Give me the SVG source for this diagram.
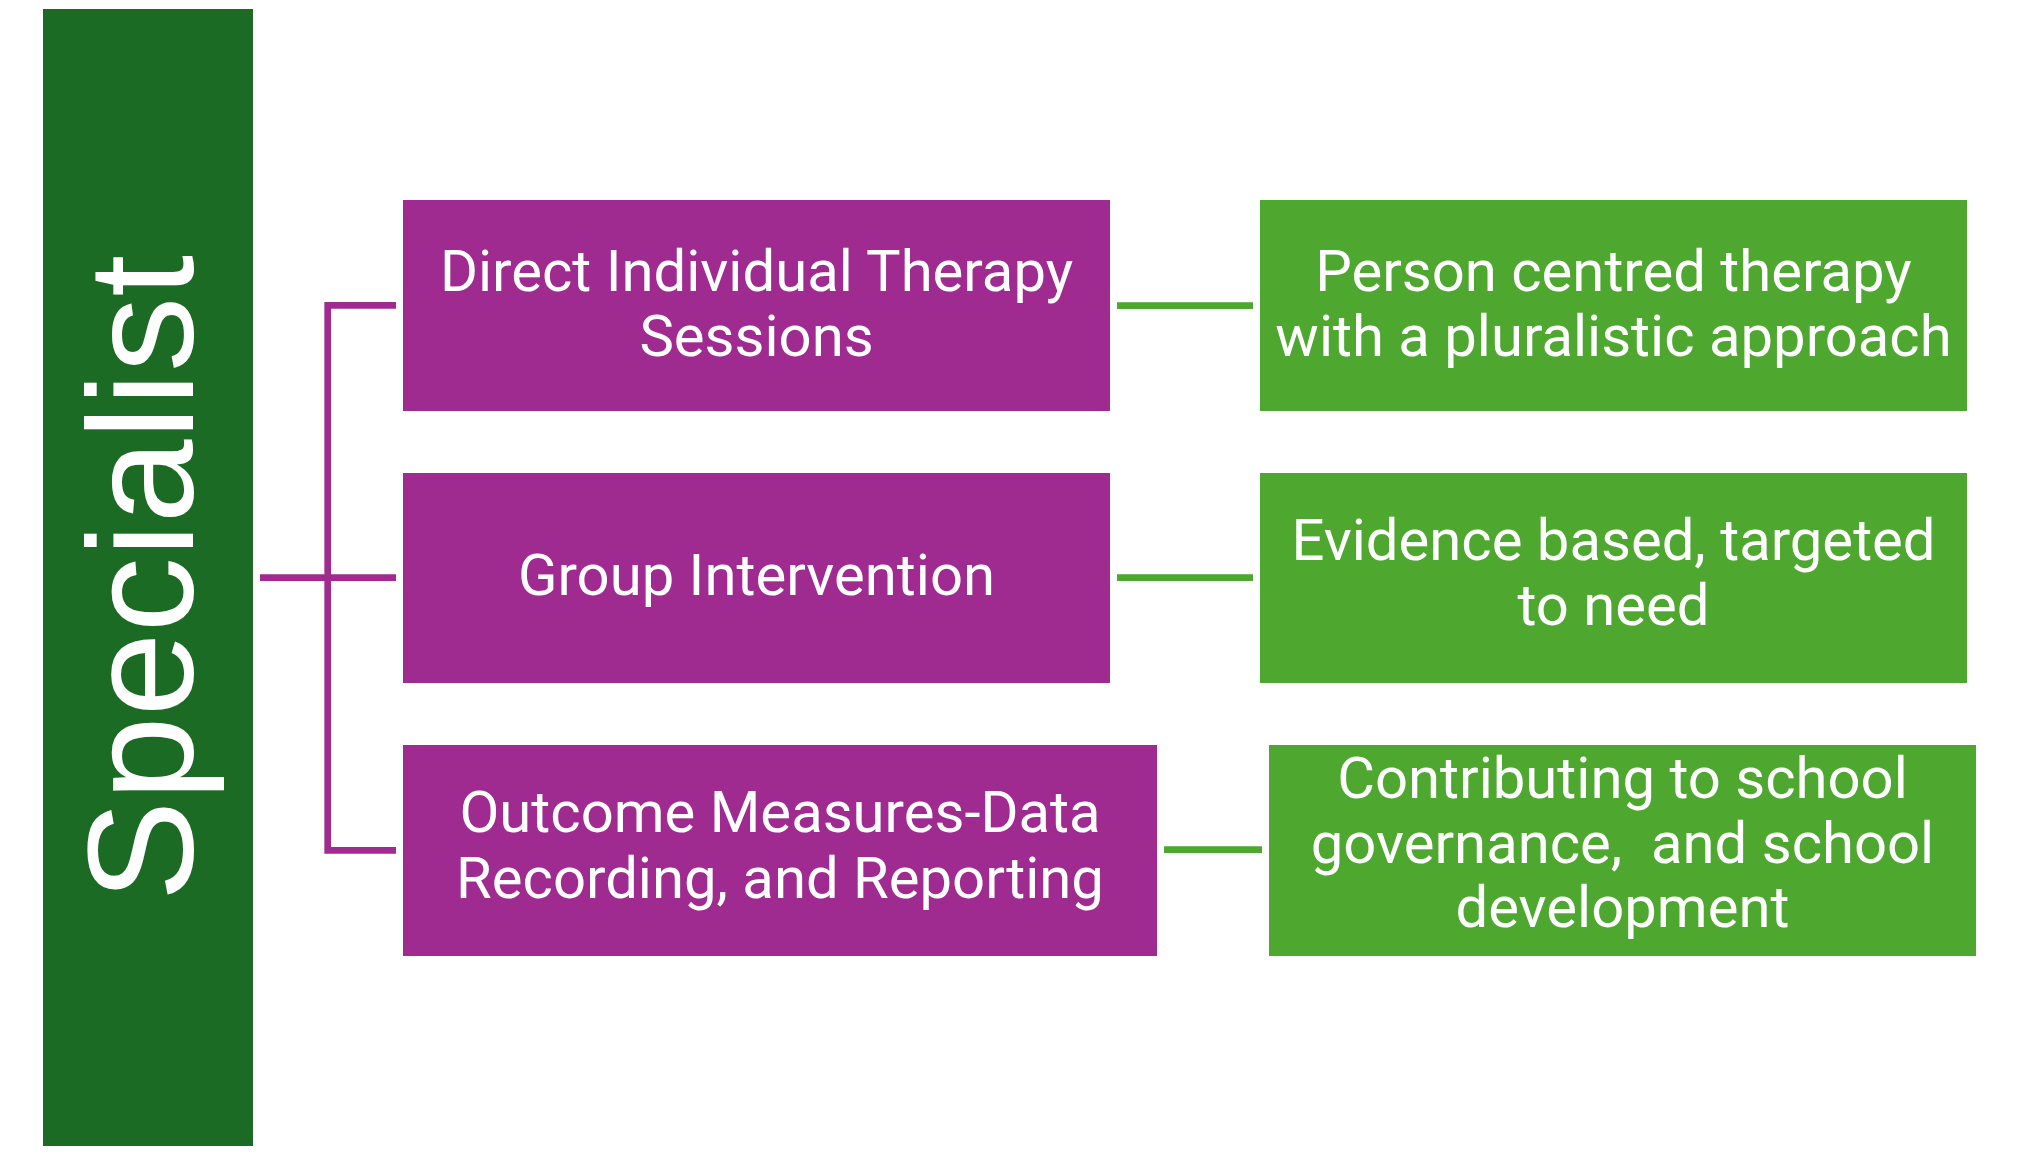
<svg xmlns="http://www.w3.org/2000/svg" width="2018" height="1155" viewBox="0 0 2018 1155">
<style>
.bg{fill:#ffffff}
.main{fill:#1B6B24}
.p{fill:#A02B90}
.g{fill:#4EA72E}
.t{fill:#ffffff;font-family:Roboto,"Liberation Sans",sans-serif;font-size:58px;text-anchor:middle}
.big{fill:#ffffff;font-family:"Liberation Sans",Arial,sans-serif;font-size:151px;text-anchor:middle}
.cp{fill:none;stroke:#A02B90;stroke-width:6.7}
.cg{fill:none;stroke:#4EA72E;stroke-width:6.7}
</style>
<rect class="bg" x="0" y="0" width="2018" height="1155"/>
<g id="connectors">
<path class="cp" d="M396,305.3 H327.7 V850.3 H396"/>
<path class="cp" d="M260,577.7 H396"/>
<path class="cg" d="M1117,305.7 H1253"/>
<path class="cg" d="M1117,577.7 H1253"/>
<path class="cg" d="M1164,849.7 H1262"/>
</g>
<g id="specialist">
<rect class="main" x="43" y="9" width="210" height="1137"/>
<text class="big" transform="translate(193,578) rotate(-90)">Specialist</text>
</g>
<g id="direct-therapy">
<rect class="p" x="403" y="200" width="707" height="211"/>
<text class="t" x="756.5" y="291">Direct Individual Therapy</text>
<text class="t" x="756.5" y="356">Sessions</text>
</g>
<g id="group-intervention">
<rect class="p" x="403" y="473" width="707" height="210"/>
<text class="t" x="756.5" y="595">Group Intervention</text>
</g>
<g id="outcome-measures">
<rect class="p" x="403" y="745" width="754" height="211"/>
<text class="t" x="780" y="832">Outcome Measures-Data</text>
<text class="t" x="780" y="898">Recording, and Reporting</text>
</g>
<g id="person-centred">
<rect class="g" x="1260" y="200" width="707" height="211"/>
<text class="t" x="1613.5" y="291">Person centred therapy</text>
<text class="t" x="1613.5" y="356">with a pluralistic approach</text>
</g>
<g id="evidence-based">
<rect class="g" x="1260" y="473" width="707" height="210"/>
<text class="t" x="1613.5" y="560">Evidence based, targeted</text>
<text class="t" x="1613.5" y="625">to need</text>
</g>
<g id="governance">
<rect class="g" x="1269" y="745" width="707" height="211"/>
<text class="t" x="1622.5" y="798">Contributing to school</text>
<text class="t" x="1622.5" y="863" xml:space="preserve">governance,  and school</text>
<text class="t" x="1622.5" y="927">development</text>
</g>
</svg>
